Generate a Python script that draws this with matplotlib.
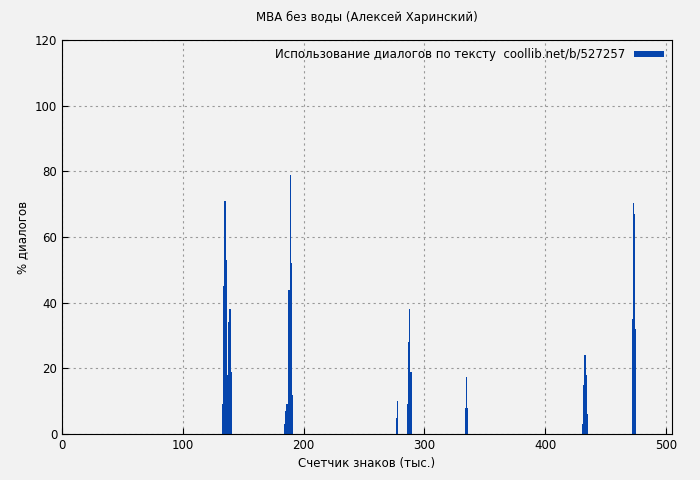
import matplotlib
matplotlib.use("Agg")
import matplotlib.pyplot as plt

# counter position (thousand chars) and percent of dialogue
xs = [133, 134, 135, 136, 137, 138, 139, 140,
      184, 185, 186, 187, 188, 189, 190, 191,
      277, 278,
      286, 287, 288, 289,
      334, 335, 336,
      431, 432, 433, 434, 435,
      472, 473, 474, 475]
vals = [9, 45, 71, 53, 18, 34, 38, 19,
        3, 7, 9, 9, 44, 79, 52, 12,
        5, 10,
        9, 28, 38, 19,
        8, 17.5, 8,
        3, 15, 24, 18, 6,
        35, 70.5, 67, 32]
title = "МВА без воды (Алексей Харинский)"
legend_label = "Использование диалогов по тексту  coollib.net/b/527257"

fig = plt.figure(figsize=(7, 4.8), dpi=100)
fig.patch.set_facecolor("#f2f2f2")
ax = fig.add_axes([62/700, 46/480, 610/700, 394/480])
ax.set_facecolor("#f2f2f2")

ax.bar(xs, vals, width=1.0, color="#0645ad", label=legend_label, linewidth=0)

ax.set_xlim(0, 505)
ax.set_ylim(0, 120)
ax.set_xticks(range(0, 501, 100))
ax.set_yticks(range(0, 121, 20))
ax.grid(True, color="#999999", linestyle=(0, (2, 3)), linewidth=0.8)
ax.set_axisbelow(True)
ax.tick_params(labelsize=8.5, direction="in", length=4)
for s in ax.spines.values():
    s.set_color("black")

ax.set_title(title, fontsize=8.5, pad=14)
ax.set_xlabel("Счетчик знаков (тыс.)", fontsize=8.5)
ax.set_ylabel("% диалогов", fontsize=8.5)
leg = ax.legend(loc="upper right", fontsize=8.5, frameon=False,
                markerfirst=False, handlelength=2.5, handleheight=0.5,
                borderaxespad=0.3)

fig.savefig("out.png", dpi=100, facecolor=fig.get_facecolor())
